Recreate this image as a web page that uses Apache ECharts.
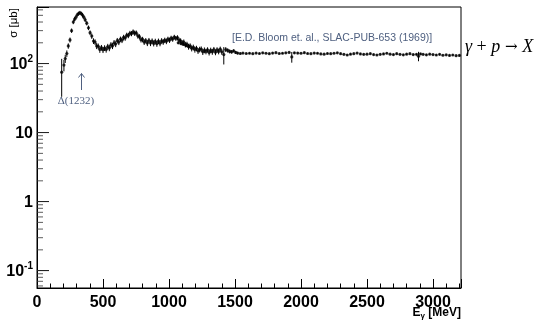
<!DOCTYPE html>
<html><head><meta charset="utf-8">
<script src="https://cdn.jsdelivr.net/npm/echarts@6/dist/echarts.min.js"></script>
<style>html,body{margin:0;padding:0;background:#fff}#c{width:547px;height:325px;background:#fff}</style>
</head><body><div id="c"></div>
<script>
// photon energy [MeV]
const energy = [
 187,204,214,226,237,250,262,275,285,295,305,315,325,335,345,355,365,377,390,402,
 415,428,440,452,464,476,488,500,512,524,536,548,560,572,584,596,608,620,632,644,
 656,668,680,692,704,716,728,740,752,764,776,788,800,812,824,836,848,860,872,884,
 896,908,920,932,944,956,968,980,992,1004,1016,1028,1040,1052,1064,1076,1070,1090,1110,1130,
 1150,1088,1100,1112,1124,1136,1148,1160,1172,1184,1196,1208,1220,1232,1244,1256,1268,1280,1292,1304,
 1316,1328,1340,1352,1364,1376,1388,1400,1415,1430,1445,1460,1475,1490,1505,1520,1540,1560,1585,1610,
 1635,1660,1685,1710,1735,1760,1785,1810,1835,1860,1885,1910,1930,1950,1975,2000,2025,2050,2075,2100,
 2125,2150,2175,2200,2225,2250,2275,2300,2325,2350,2375,2400,2425,2450,2475,2500,2525,2550,2575,2600,
 2625,2650,2675,2700,2725,2750,2775,2800,2825,2850,2875,2890,2905,2925,2950,2975,3000,3025,3050,3075,
 3100,3125,3150,3175,3200
];
// total cross section sigma [microbarn]
const sigma = [
 75,95,118,140,180,220,300,400,440,470,510,530,545,530,505,470,430,385,330,280,
 250,212,205,180,178,160,170,158,168,160,176,168,186,180,200,192,215,205,226,218,
 240,235,258,255,275,272,288,276,278,252,245,222,224,205,215,198,216,198,212,196,
 210,194,211,197,214,206,218,210,226,218,234,226,242,232,238,218,200,195,190,182,
 176,214,200,205,188,190,176,180,166,172,160,166,153,160,162,148,156,150,158,145,
 156,148,160,146,158,150,162,148,135,160,155,150,148,153,145,142,140,142,140,141,
 139,142,140,143,141,139,142,144,140,141,143,145,125,143,142,141,144,140,139,142,
 141,138,137,140,139,141,143,139,136,133,137,139,142,138,136,137,139,135,133,136,
 138,141,137,135,139,136,134,137,139,135,136,128,138,136,134,137,135,133,136,132,
 134,131,133,130,131
];
// statistical error on sigma [microbarn]
const sigmaErr = [
 42,18,16,15,16,18,22,28,30,32,34,35,35,35,34,32,30,28,25,22,
 22,20,19,18,17,17,16,16,16,16,17,17,18,18,19,19,20,20,20,20,
 21,21,22,22,23,23,24,24,23,22,21,20,20,19,19,19,19,19,19,19,
 19,19,19,19,19,19,19,19,19,19,19,19,19,19,19,19,8,8,8,8,
 8,18,18,18,17,17,17,16,16,16,16,15,15,15,15,15,15,14,14,14,
 14,14,14,14,14,14,14,14,38,13,11,10,9,8,7,6,5,4,4,4,
 4,4,4,4,4,4,4,4,4,4,4,4,22,4,4,4,4,4,4,4,
 4,4,4,4,4,4,4,4,4,4,4,4,4,4,4,4,4,4,4,4,
 4,4,4,4,4,4,4,4,4,4,4,20,4,4,4,4,4,4,4,4,
 4,4,4,4,4
];
const xRange = [0, 3212];
const yRange = [0.056, 660];
const yMajor = [0.1, 1, 10, 100];
const yTickText = {'0.1': '{b|10}{s|-1}', '1': '{b|1}', '10': '{b|10}', '100': '{b|10}{s|2}'};

const ANNO = '#4f6080';
const yMinor = [];
for (let d = -2; d <= 2; d++) for (let m = 2; m <= 9; m++) {
  const v = m * Math.pow(10, d);
  if (v > yRange[0] && v < yRange[1]) yMinor.push(v);
}

const chart = echarts.init(document.getElementById('c'), null, {renderer: 'canvas'});
chart.setOption({
  animation: false,
  grid: {left: 37, right: 86, top: 7, bottom: 37, show: true, borderColor: '#000', borderWidth: 1},
  xAxis: {
    type: 'value', min: xRange[0], max: xRange[1], interval: 500,
    axisLine: {show: true, lineStyle: {color: '#000', width: 1}},
    axisTick: {show: true, inside: true, length: 9, lineStyle: {color: '#000'}},
    minorTick: {show: true, splitNumber: 5, length: 4.5, lineStyle: {color: '#000'}},
    splitLine: {show: false},
    axisLabel: {color: '#000', fontFamily: 'Liberation Sans', fontWeight: 'bold', fontSize: 16, margin: 7, showMaxLabel: false,
      formatter: v => String(v)}
  },
  yAxis: {
    type: 'log', logBase: 10, min: yRange[0], max: yRange[1],
    axisLine: {show: true, lineStyle: {color: '#000', width: 1}},
    axisTick: {show: true, inside: true, length: 12, lineStyle: {color: '#000', width: 1}},
    splitLine: {show: false},
    axisLabel: {
      margin: 4,
      formatter: function (v) {
        const k = String(Math.round(v * 1000) / 1000);
        return yTickText[k] || '';
      },
      rich: {
        b: {fontFamily: 'Liberation Sans', fontWeight: 'bold', fontSize: 16, color: '#000', lineHeight: 18, verticalAlign: 'bottom'},
        s: {fontFamily: 'Liberation Sans', fontWeight: 'bold', fontSize: 10, color: '#000', lineHeight: 18, verticalAlign: 'top', padding: [0, 0, 6, 0]}
      }
    }
  },
  series: [
    {
      name: 'yMinorTicks', type: 'scatter', z: 6, silent: true, clip: false,
      data: yMinor.map(v => [xRange[0], v]),
      symbol: 'rect', symbolSize: [6, 1], symbolOffset: [3, 0],
      itemStyle: {color: '#333'}
    },
    {
      name: 'yMajorTicks', type: 'scatter', z: 6, silent: true, clip: false,
      data: yMajor.map(v => [xRange[0], v]),
      symbol: 'rect', symbolSize: [12, 1], symbolOffset: [6, 0],
      itemStyle: {color: '#333'}
    },
    {
      type: 'custom', z: 2,
      data: energy.map((e, i) => [e, sigma[i] - sigmaErr[i], sigma[i] + sigmaErr[i]]),
      encode: {x: 0, y: [1, 2]},
      renderItem: function (params, api) {
        const a = api.coord([api.value(0), api.value(1)]);
        const b = api.coord([api.value(0), api.value(2)]);
        return {type: 'line', shape: {x1: a[0], y1: a[1], x2: b[0], y2: b[1]}, style: {stroke: '#000', lineWidth: 1}};
      }
    },
    {
      type: 'scatter', z: 3,
      data: energy.map((e, i) => [e, sigma[i]]),
      symbol: 'circle', symbolSize: 3.2,
      itemStyle: {color: '#000'}
    }
  ],
  graphic: [
    {type: 'text', x: 14, y: 23, rotation: Math.PI / 2,
     style: {text: 'σ [μb]', fontFamily: 'Liberation Sans', fontSize: 11.5, fill: '#000', align: 'center', verticalAlign: 'middle'}},
    {type: 'text', x: 461, y: 313,
     style: {text: '{n|E}{u|γ}{n| [MeV]}', align: 'right', verticalAlign: 'middle',
       rich: {n: {fontFamily: 'Liberation Sans', fontWeight: 'bold', fontSize: 12, fill: '#000', lineHeight: 14, verticalAlign: 'middle'},
              u: {fontFamily: 'Liberation Sans', fontWeight: 'bold', fontSize: 8, fill: '#000', lineHeight: 14, verticalAlign: 'bottom', padding: [4, 0, 0, 0]}}}},
    {type: 'text', x: 232, y: 38,
     style: {text: '[E.D. Bloom et. al., SLAC-PUB-653 (1969)]', fontFamily: 'Liberation Sans', fontSize: 10.5, fill: ANNO, verticalAlign: 'middle'}},
    {type: 'text', x: 465, y: 47,
     style: {text: '{i|γ}{r| + }{i|p}{a| → }{i|X}', verticalAlign: 'middle',
       rich: {i: {fontFamily: 'Liberation Serif', fontStyle: 'italic', fontSize: 18, fill: '#000'},
              r: {fontFamily: 'Liberation Serif', fontSize: 18, fill: '#000'},
              a: {fontFamily: 'DejaVu Serif', fontSize: 15, fill: '#000'}}}},
    {type: 'text', x: 76, y: 101,
     style: {text: 'Δ(1232)', fontFamily: 'Liberation Serif', fontSize: 11, fill: ANNO, align: 'center', verticalAlign: 'middle'}},
    {type: 'polyline', shape: {points: [[81.5, 90], [81.5, 73.5]]}, style: {stroke: ANNO, lineWidth: 1, fill: null}},
    {type: 'polyline', shape: {points: [[78.5, 77.5], [81.5, 73.5], [84.5, 77.5]]}, style: {stroke: ANNO, lineWidth: 1, fill: null}}
  ]
});
</script>
</body></html>
